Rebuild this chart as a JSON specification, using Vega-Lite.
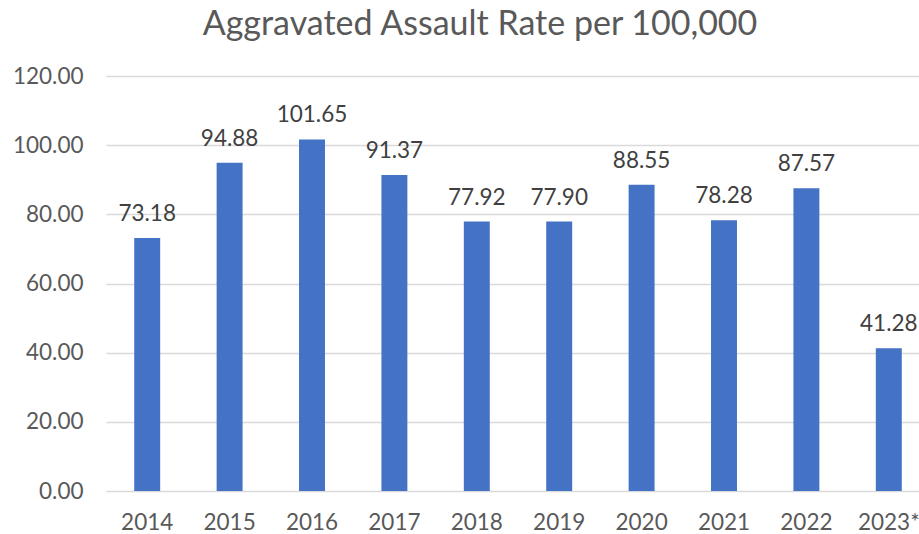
{
  "$schema": "https://vega.github.io/schema/vega-lite/v6.json",
  "width": 824,
  "height": 415,
  "autosize": {"type": "none"},
  "padding": {"left": 106, "top": 76, "right": 0, "bottom": 43},
  "background": "white",
  "config": {
    "view": {"stroke": null},
    "font": "Lato",
    "axis": {"labelFont": "Lato", "labelColor": "#595959", "labelFontSize": 22.5, "ticks": false, "domain": false, "title": null}
  },
  "title": {
    "text": "Aggravated Assault Rate per 100,000",
    "font": "Lato",
    "fontSize": 34,
    "fontWeight": "normal",
    "color": "#595959",
    "anchor": "middle",
    "frame": "group",
    "dx": -38,
    "offset": 23
  },
  "data": {
    "values": [
      {"year": "2014", "rate": 73.18},
      {"year": "2015", "rate": 94.88},
      {"year": "2016", "rate": 101.65},
      {"year": "2017", "rate": 91.37},
      {"year": "2018", "rate": 77.92},
      {"year": "2019", "rate": 77.90},
      {"year": "2020", "rate": 88.55},
      {"year": "2021", "rate": 78.28},
      {"year": "2022", "rate": 87.57},
      {"year": "2023*", "rate": 41.28}
    ]
  },
  "encoding": {
    "x": {
      "field": "year",
      "type": "nominal",
      "sort": null,
      "scale": {"paddingInner": 0.685, "paddingOuter": 0.3425},
      "axis": {"labelAngle": 0, "labelPadding": 20, "grid": false}
    },
    "y": {
      "field": "rate",
      "type": "quantitative",
      "scale": {"domain": [0, 120], "nice": false},
      "axis": {"values": [0, 20, 40, 60, 80, 100, 120], "format": ".2f", "labelPadding": 23, "grid": true, "gridColor": "#D9D9D9", "gridWidth": 1.5}
    }
  },
  "layer": [
    {"mark": {"type": "bar", "color": "#4472C4"}},
    {
      "mark": {"type": "text", "baseline": "alphabetic", "dy": -17, "fontSize": 22.5, "color": "#404040", "font": "Lato"},
      "encoding": {"text": {"field": "rate", "type": "quantitative", "format": ".2f"}}
    }
  ]
}
